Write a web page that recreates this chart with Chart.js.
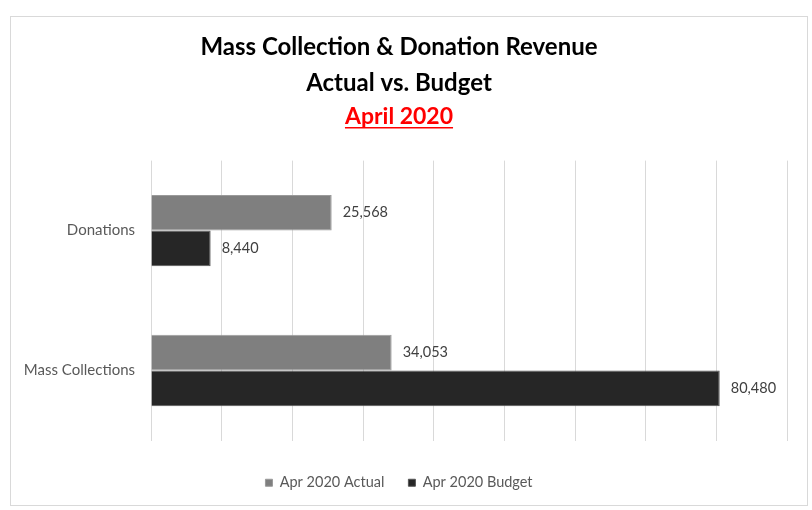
<!DOCTYPE html>
<html>
<head>
<meta charset="utf-8">
<script src="https://cdn.jsdelivr.net/npm/chart.js@4.4.1/dist/chart.umd.min.js"></script>
<style>
  html, body { margin: 0; padding: 0; background: #fff; }
  #frame {
    position: absolute; left: 10px; top: 16px;
    width: 796px; height: 488px;
    border: 1px solid #d9d9d9;
  }
  #chart { display: block; }
</style>
</head>
<body>
<div id="frame"><canvas id="chart" width="796" height="488"></canvas></div>
<script>
  const categories = ["Donations", "Mass Collections"];
  const actualValues = [25568, 34053];
  const budgetValues = [8440, 80480];
  const seriesNames = ["Apr 2020 Actual", "Apr 2020 Budget"];
  const titleLines = ["Mass Collection & Donation Revenue", "Actual vs. Budget"];
  const subtitleText = "April 2020";

  const FONT = "Lato, 'DejaVu Sans', sans-serif";
  const SUB_SIZE = 23;

  // value labels at the end of each bar
  const barLabels = {
    id: "barLabels",
    afterDatasetsDraw(chart) {
      const ctx = chart.ctx;
      ctx.save();
      ctx.font = `14.5px ${FONT}`;
      ctx.fillStyle = "#404040";
      ctx.textAlign = "left";
      ctx.textBaseline = "middle";
      chart.data.datasets.forEach((ds, i) => {
        chart.getDatasetMeta(i).data.forEach((bar, j) => {
          ctx.fillText(ds.data[j].toLocaleString("en-US"), bar.x + 11, bar.y);
        });
      });
      ctx.restore();
    },
  };

  // red underline under the subtitle
  const underline = {
    id: "underline",
    afterDraw(chart) {
      const box = chart.boxes.find((b) => b.options && b.options.text === subtitleText);
      if (!box) return;
      const ctx = chart.ctx;
      ctx.save();
      ctx.font = `bold ${SUB_SIZE}px ${FONT}`;
      const w = ctx.measureText(subtitleText).width;
      const cx = (box.left + box.right) / 2;
      const y = box.top + box.options.padding.top + SUB_SIZE * 1.08;
      ctx.strokeStyle = "#ff0000";
      ctx.lineWidth = 1.5;
      ctx.beginPath();
      ctx.moveTo(cx - w / 2, y);
      ctx.lineTo(cx + w / 2, y);
      ctx.stroke();
      ctx.restore();
    },
  };

  new Chart(document.getElementById("chart"), {
    type: "bar",
    data: {
      labels: categories,
      datasets: [
        {
          label: seriesNames[0],
          data: actualValues,
          backgroundColor: "#7f7f7f",
          borderColor: "#9a9a9a",
          borderWidth: 1,
          barPercentage: 1,
          categoryPercentage: 0.51,
        },
        {
          label: seriesNames[1],
          data: budgetValues,
          backgroundColor: "#262626",
          borderColor: "#555555",
          borderWidth: 1,
          barPercentage: 1,
          categoryPercentage: 0.51,
        },
      ],
    },
    options: {
      responsive: false,
      animation: false,
      indexAxis: "y",
      layout: { padding: { left: 0, right: 20, top: 0, bottom: 5 } },
      scales: {
        x: {
          min: 0,
          max: 90000,
          ticks: { display: false, stepSize: 10000 },
          grid: { color: "#d9d9d9", lineWidth: 1, drawTicks: false },
          border: { display: false },
          afterFit: (s) => { s.height = 11; },
        },
        y: {
          ticks: {
            padding: 16,
            color: "#595959",
            font: { family: FONT, size: 15 },
          },
          grid: { display: false, drawTicks: false },
          border: { display: false },
          afterFit: (s) => { s.width = 140; },
        },
      },
      plugins: {
        title: {
          display: true,
          text: titleLines,
          color: "#000000",
          font: { family: FONT, size: 24, weight: "bold", lineHeight: 36 / 24 },
          padding: { top: 12, bottom: 0 },
        },
        subtitle: {
          display: true,
          text: subtitleText,
          color: "#ff0000",
          font: { family: FONT, size: SUB_SIZE, weight: "bold", lineHeight: 1.2 },
          padding: { top: 2, bottom: 30 },
        },
        legend: {
          position: "bottom",
          labels: {
            boxWidth: 7,
            boxHeight: 7,
            padding: 24,
            color: "#595959",
            font: { family: FONT, size: 14.5 },
          },
        },
        tooltip: { enabled: false },
      },
    },
    plugins: [barLabels, underline],
  });
</script>
</body>
</html>
